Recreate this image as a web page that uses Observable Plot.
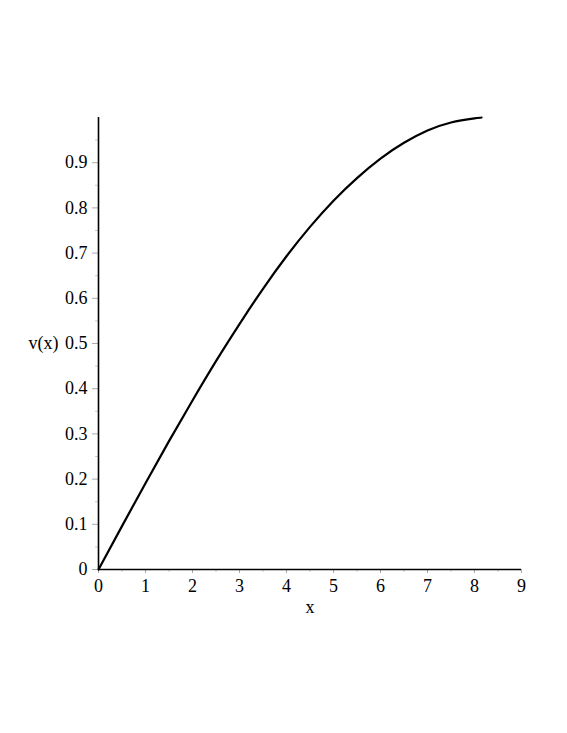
<!DOCTYPE html>
<html>
<head>
<meta charset="utf-8">
<script src="https://cdn.jsdelivr.net/npm/d3@7"></script>
<script src="https://cdn.jsdelivr.net/npm/@observablehq/plot@0.6"></script>
<style>
  html, body { margin: 0; padding: 0; background: #fff; }
</style>
</head>
<body>
<div id="chart"></div>
<script>
// Curve values
const xs = [0, 0.5, 1, 1.5, 2, 2.5, 3, 3.5, 4, 4.5, 5, 5.5, 6, 6.5, 7, 7.5, 8, 8.15];
const vs = [0, 0.096, 0.191, 0.284, 0.374, 0.461, 0.543, 0.621, 0.693, 0.758, 0.816, 0.866, 0.909, 0.944, 0.971, 0.989, 0.998, 1.0];
const xTicks = [0, 1, 2, 3, 4, 5, 6, 7, 8, 9];
const xMinor = [0.5, 1.5, 2.5, 3.5, 4.5, 5.5, 6.5, 7.5, 8.5];
const yTicks = [0, 0.1, 0.2, 0.3, 0.4, 0.5, 0.6, 0.7, 0.8, 0.9];
const yMinor = [0.05, 0.15, 0.25, 0.35, 0.45, 0.55, 0.65, 0.75, 0.85, 0.95];
const xLabel = "x";
const yLabel = "v(x)";

const data = xs.map((x, i) => ({x, v: vs[i]}));

const chart = Plot.plot({
  width: 567,
  height: 733,
  marginLeft: 98,
  marginRight: 46,
  marginTop: 117,
  marginBottom: 164,
  style: {fontFamily: "'Liberation Serif', 'Times New Roman', serif", fontSize: "18px", color: "#000", background: "#fff"},
  x: {type: "linear", domain: [0, 9]},
  y: {type: "linear", domain: [0, 1]},
  marks: [
    Plot.axisX(xTicks, {tickSize: 4, tickPadding: 6, stroke: "#aaa", fill: "#000", label: null, tickFormat: d => String(d), fontSize: 18}),
    Plot.axisX(xMinor, {tickSize: 3, stroke: "#ccc", label: null, tickFormat: () => ""}),
    Plot.axisY(yTicks, {tickSize: 6, tickPadding: 5, stroke: "#aaa", fill: "#000", label: null, tickFormat: d => String(d), fontSize: 18}),
    Plot.axisY(yMinor, {tickSize: 3, stroke: "#ccc", label: null, tickFormat: () => ""}),
    Plot.ruleY([0], {x1: 0, x2: 9, stroke: "#000", strokeWidth: 1.6}),
    Plot.ruleX([0], {y1: 0, y2: 1, stroke: "#000", strokeWidth: 1.6}),
    Plot.line(data, {x: "x", y: "v", stroke: "#000", strokeWidth: 2.2, curve: "natural"}),
    Plot.text([yLabel], {x: 0, y: 0.5, text: d => d, textAnchor: "end", dx: -40, fontSize: 18, fill: "#000"}),
    Plot.text([xLabel], {x: 4.5, y: 0, text: d => d, dy: 38, fontSize: 18, fill: "#000"})
  ]
});
document.getElementById("chart").appendChild(chart);
</script>
</body>
</html>
